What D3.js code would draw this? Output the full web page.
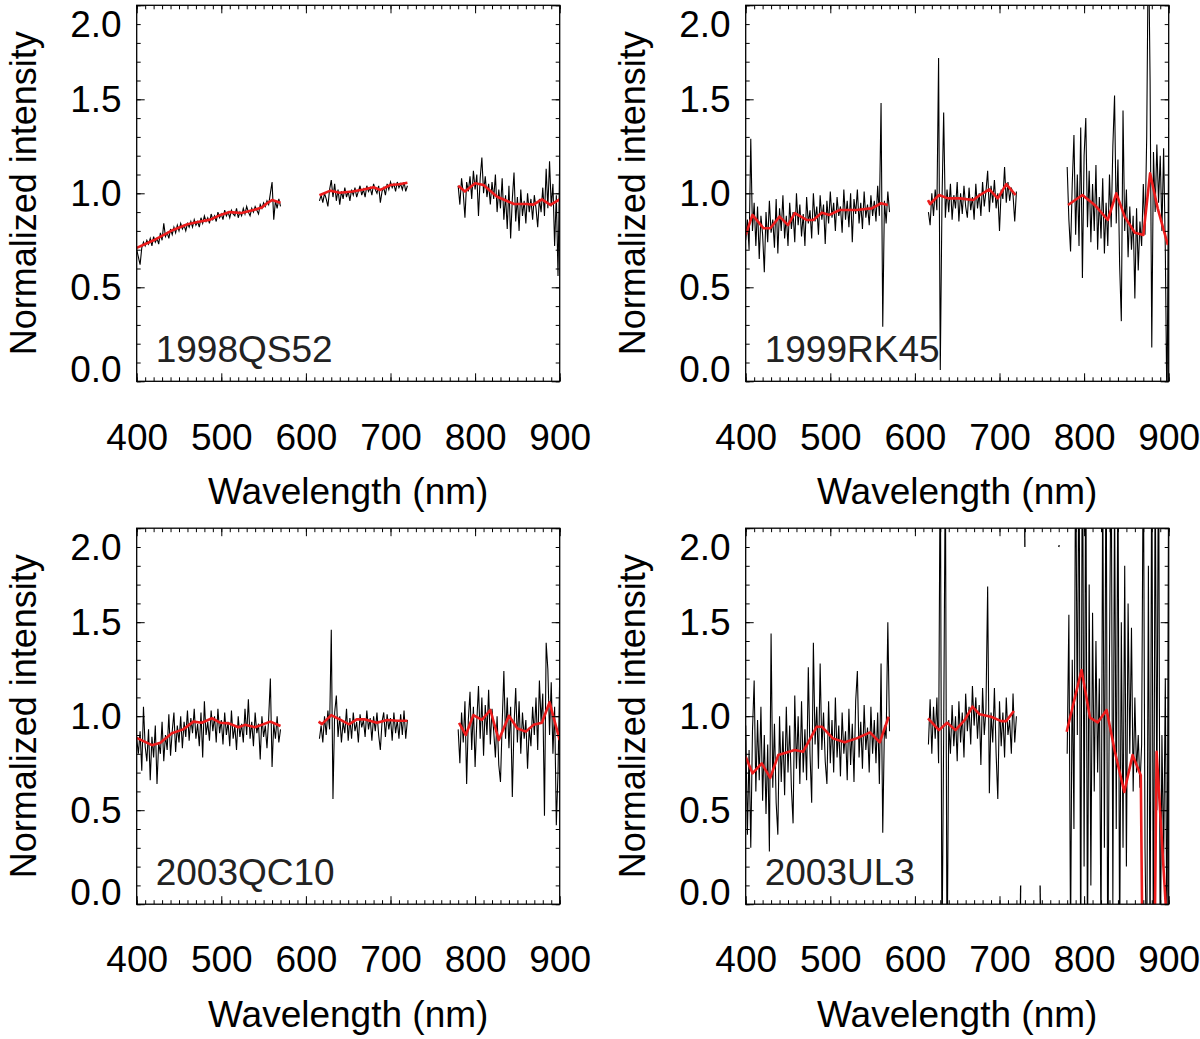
<!DOCTYPE html>
<html>
<head>
<meta charset="utf-8">
<script src="https://cdn.jsdelivr.net/npm/d3@7"></script>
<style>
body { margin: 0; background: #fff; }
svg { display: block; }
text { font-family: "Liberation Sans", Arial, Helvetica, sans-serif; }
</style>
</head>
<body>
<svg id="fig" width="1200" height="1039"></svg>
<script>
// spectra are sampled every 2 nm in three windows
var segStart = [400, 616, 780];
var step = 2;
var xTicks = [400, 500, 600, 700, 800, 900];
var yTicks = [0, 0.5, 1, 1.5, 2];
var names = ["1998QS52", "1999RK45", "2003QC10", "2003UL3"];

// 1998QS52
var qs52A = [0.70,0.66,0.62,0.71,0.74,0.72,0.75,0.73,0.76,0.72,0.77,0.74,0.76,0.73,0.79,0.75,0.84,0.77,0.79,0.76,
  0.81,0.78,0.82,0.79,0.83,0.80,0.84,0.81,0.83,0.80,0.84,0.82,0.85,0.82,0.86,0.83,0.85,0.82,0.87,0.84,
  0.88,0.85,0.87,0.84,0.89,0.86,0.88,0.85,0.90,0.87,0.89,0.86,0.91,0.88,0.90,0.87,0.91,0.89,0.88,0.92,
  0.87,0.90,0.88,0.92,0.89,0.93,0.90,0.88,0.92,0.90,0.93,0.91,0.89,0.94,0.92,0.95,0.93,0.96,0.94,1.00,
  1.06,0.86,0.96,0.92,0.97,0.93];
var qs52B = [0.96,0.99,0.95,1.00,0.97,0.93,1.02,1.07,0.98,1.05,0.96,1.02,0.94,1.01,0.97,1.03,0.98,1.01,0.96,1.02,
  0.99,1.03,0.98,1.01,1.04,0.99,1.02,0.98,1.04,1.01,1.03,0.99,1.05,1.02,1.00,1.04,0.95,1.01,1.03,0.99,
  1.05,1.02,1.06,1.03,1.05,1.01,1.06,1.03,1.05,1.02,1.06,1.01,1.04];
var qs52C = [1.04,0.94,1.08,1.00,0.87,1.06,1.01,1.09,0.97,1.12,1.02,1.10,0.88,1.08,1.19,1.00,1.09,0.98,1.05,0.94,
  1.06,0.97,1.10,0.90,1.02,0.92,1.08,0.86,0.99,0.81,1.04,0.76,0.97,1.11,0.85,0.98,0.80,1.02,0.88,0.96,
  0.84,1.00,0.90,0.97,0.86,0.99,0.92,0.82,0.97,0.90,1.03,0.88,1.13,0.92,1.17,0.93,1.05,0.72,0.99,0.56,1.18];
var qs52Smooth = [[400,0.71],[420,0.75],[443,0.805],[460,0.835],[475,0.85],[487,0.86],[499,0.885],[510,0.90],
  [524,0.895],[538,0.911],[548,0.925],[554,0.947],[560,0.964],[570,0.95], null,
  [616,0.99],[629,1.014],[640,1.003],[655,1.01],[668,1.02],[680,1.032],[688,1.018],[700,1.044],[710,1.048],[720,1.056], null,
  [780,1.04],[788,1.01],[800,1.053],[810,1.044],[826,0.982],[846,0.943],[861,0.943],[869,0.94],[879,0.968],[889,0.938],[900,0.968]];

// 1999RK45
var rk45A = [0.75,0.86,0.70,1.29,0.80,0.95,0.72,0.93,0.65,0.88,0.78,0.58,0.90,0.74,0.96,0.79,0.86,0.71,0.97,0.68,
  0.92,0.80,0.99,0.76,0.88,0.72,0.95,0.81,0.90,0.74,1.00,0.83,0.94,0.77,0.89,0.72,0.98,0.84,0.91,0.76,
  1.00,0.85,0.93,0.78,0.99,0.86,0.94,0.73,0.96,0.84,1.01,0.87,0.95,0.80,0.98,0.88,0.93,0.79,1.02,0.86,
  0.96,0.82,1.00,0.74,0.97,0.89,1.02,0.84,0.95,0.81,1.01,0.87,0.94,0.83,0.99,0.88,0.96,0.85,1.04,0.88,
  1.48,0.29,0.96,0.84,1.01,0.90];
var rk45B = [0.90,0.83,1.00,0.88,1.02,0.91,1.72,0.06,0.95,1.43,0.87,1.02,0.90,1.05,0.86,0.99,0.92,1.06,0.85,1.00,
  0.89,1.04,0.93,0.87,1.03,0.91,0.98,0.86,1.05,0.92,1.00,0.88,1.06,0.93,1.01,1.12,0.90,1.04,0.95,1.07,
  0.92,1.00,0.80,1.02,0.97,1.14,0.95,1.06,0.96,1.03,0.99,0.85,1.01];
var rk45C = [1.14,0.86,0.69,1.05,1.31,0.78,1.10,0.72,1.35,0.55,1.20,1.40,0.82,1.12,0.74,1.05,0.80,1.15,0.70,0.98,
  0.76,1.08,0.68,0.95,0.72,1.10,0.82,1.25,1.52,0.84,1.18,0.62,0.32,1.44,0.80,1.02,0.66,0.93,0.70,0.88,
  0.44,0.92,0.59,0.85,0.72,1.05,0.78,1.30,2.40,1.60,0.18,1.22,0.90,1.26,0.95,1.20,0.80,1.24,0.70,-0.20,1.35];
var rk45Smooth = [[400,0.778],[408,0.885],[421,0.814],[429,0.814],[440,0.876],[450,0.831],[458,0.894],[472,0.858],
  [480,0.858],[490,0.897],[499,0.885],[511,0.911],[531,0.911],[549,0.92],[560,0.947],[568,0.938], null,
  [615.5,0.964],[618,0.943],[628.5,0.991],[639,0.973],[653,0.973],[669,0.964],[677,0.991],[688,1.021],[698,0.973],[708,1.049],[719,0.991], null,
  [781,0.938],[798,0.991],[812.5,0.938],[828,0.858],[838,1.0],[848,0.876],[860,0.79],[870,0.778],[878,1.106],[887,0.92],[899,0.725]];

// 2003QC10
var qc10A = [0.88,0.80,0.92,0.71,1.05,0.84,0.76,0.93,0.66,0.89,0.78,0.95,0.64,0.86,0.80,0.97,0.76,0.90,0.82,1.01,
  0.79,0.92,1.02,0.81,0.95,0.86,1.00,0.83,0.97,0.89,1.03,0.87,0.99,0.91,1.04,0.88,0.96,0.84,1.02,0.78,
  1.08,0.90,0.97,0.87,1.03,0.92,1.00,0.86,1.04,0.91,0.98,0.85,1.02,0.90,0.97,0.84,1.03,0.88,0.95,0.82,
  1.00,0.89,0.96,0.86,1.04,0.90,1.09,0.88,0.97,0.84,1.02,0.91,0.96,0.77,1.00,0.89,0.95,0.83,0.99,1.20,
  0.73,0.96,0.88,1.00,0.86,0.93];
var qc10B = [0.88,0.95,0.86,1.00,0.90,1.03,0.93,1.46,0.56,1.02,1.11,0.89,1.00,0.86,0.97,0.91,1.04,0.87,0.99,0.88,
  1.02,0.92,0.97,0.86,1.01,0.94,0.98,0.89,1.03,0.93,0.99,0.87,1.00,0.92,1.02,0.90,0.82,0.97,1.02,0.89,
  1.01,0.93,0.99,0.87,1.02,0.91,0.98,0.88,1.01,0.90,1.03,0.88,0.98];
var qc10C = [0.93,0.75,1.02,0.86,1.08,0.64,0.98,1.13,0.82,1.05,0.73,0.97,1.16,0.88,1.10,0.79,1.06,0.90,1.14,0.85,
  1.04,0.92,0.78,1.00,0.74,0.65,0.96,1.24,0.88,1.10,0.83,1.05,0.57,0.95,1.15,0.86,1.08,0.80,1.02,0.88,
  0.98,0.72,0.94,0.84,1.05,0.90,1.10,0.82,1.19,0.97,1.12,0.47,1.39,1.25,0.90,1.18,0.80,1.05,0.42,0.70,1.21];
var qc10Smooth = [[400,0.885],[418,0.846],[428,0.859],[441.5,0.909],[455,0.93],[467,0.971],[477,0.965],[489,0.989],
  [499,0.965],[509,0.962],[520,0.941],[528,0.954],[540,0.941],[558,0.971],[570,0.948], null,
  [615,0.971],[619,0.958],[630,1.006],[641,0.98],[651,0.957],[660,0.983],[670,0.983],[684,0.965],[696,0.98],[708,0.976],[720,0.976], null,
  [781,0.965],[789,0.9],[798,1.006],[808,0.98],[818,1.033],[828,0.873],[840,1.002],[850,0.935],[860,0.918],[869,0.954],[879,0.965],[888,1.074],[900,0.873]];

// 2003UL3
var ul3A = [0.95,0.37,0.82,0.30,0.92,1.19,0.60,0.98,0.66,1.05,0.55,0.90,0.48,0.85,0.28,1.44,0.62,0.96,0.54,0.37,
  1.00,0.65,0.92,0.58,1.05,0.70,0.95,0.62,0.43,1.11,0.72,1.00,0.64,1.08,0.70,0.93,0.66,1.26,0.80,0.54,
  1.39,0.85,1.05,0.72,1.28,0.82,1.02,0.76,0.64,1.08,0.75,0.98,0.70,1.10,0.78,0.95,0.68,1.02,0.80,0.92,
  0.66,1.04,0.74,0.96,0.65,1.08,1.24,0.78,0.97,0.72,1.06,0.82,0.94,0.70,1.05,0.80,0.98,0.75,1.02,0.64,
  1.28,0.38,0.95,0.88,1.50,0.92];
var ul3B = [0.85,1.09,0.80,1.05,0.88,1.10,0.75,2.50,-0.30,0.90,2.40,-0.40,0.98,0.80,1.06,0.84,1.00,0.76,1.08,0.86,
  1.02,0.78,1.12,0.92,1.05,0.85,1.16,0.95,1.10,0.88,1.06,0.74,1.15,0.90,1.04,1.69,0.59,1.02,0.86,1.15,
  0.80,0.56,1.08,0.84,1.02,0.78,1.10,0.90,0.98,0.80,1.12,0.86,1.00];
var ul3C = [0.80,1.54,-0.20,1.30,0.40,2.50,0.90,2.60,-0.40,2.80,0.20,2.50,-0.30,1.70,0.10,1.55,0.60,1.40,0.70,1.20,
  -0.20,2.30,0.30,2.60,-0.50,1.30,2.50,0.00,2.20,0.40,2.40,-0.30,1.50,0.30,1.80,0.20,1.60,0.80,1.47,0.60,
  1.10,0.70,0.90,0.62,0.85,2.50,0.30,-0.40,1.80,-0.30,2.60,-0.50,2.40,0.50,2.60,-0.40,0.90,0.20,1.20,-0.30,2.50];
// isolated samples inside the 720-780 nm gap
var ul3Stray = [[[724,-0.3],[725,0.10]], [[729,2.5],[730,1.90]], [[748,0.10],[749,-0.3]], [[770,1.90],[770.6,1.91]]];
var ul3Smooth = [[400,0.784],[408,0.696],[419,0.749],[429,0.672],[438.5,0.793],[458,0.82],[468,0.811],[484,0.944],
  [490,0.944],[503,0.882],[517,0.861],[531,0.882],[547,0.914],[558.5,0.861],[569,0.997], null,
  [615.5,0.989],[628.5,0.926],[638,0.965],[648,0.926],[659,0.98],[668,1.051],[676.5,1.01],[690,0.997],[702,0.974],[708,0.974],[717,1.028], null,
  [779.4,0.917],[797,1.246],[807,0.992],[816,0.967],[826.6,1.033],[836.4,0.811],[847.5,0.597],[857.3,0.793],[867,0.686],[876,-3.5],[885.7,0.81],[900,-0.27]];

var panels = [
  { name: names[0], segs: [qs52A, qs52B, qs52C], stray: [], smooth: qs52Smooth, left: 136.7, top: 5.3 },
  { name: names[1], segs: [rk45A, rk45B, rk45C], stray: [], smooth: rk45Smooth, left: 745.7, top: 5.3 },
  { name: names[2], segs: [qc10A, qc10B, qc10C], stray: [], smooth: qc10Smooth, left: 136.7, top: 528.2 },
  { name: names[3], segs: [ul3A, ul3B, ul3C], stray: ul3Stray, smooth: ul3Smooth, left: 745.7, top: 528.2 }
];

var W = 423, H = 376;
var FONT = 37;
var svg = d3.select("#fig");
svg.append("rect").attr("width", 1200).attr("height", 1039).attr("fill", "#fff");

var xMinor = d3.range(400, 901, 10);
var yMinor = d3.range(0, 21).map(function (d) { return d / 10; });

panels.forEach(function (p, k) {
    var x = d3.scaleLinear().domain([400, 900]).range([0, W]);
    var y = d3.scaleLinear().domain([0, 2]).range([H, 0]);
    var g = svg.append("g").attr("transform", "translate(" + p.left + "," + p.top + ")");

    g.append("clipPath").attr("id", "clip" + k)
        .append("rect").attr("width", W).attr("height", H);
    var plot = g.append("g").attr("clip-path", "url(#clip" + k + ")");

    var line = d3.line()
        .defined(function (d) { return d != null; })
        .x(function (d) { return x(d[0]); })
        .y(function (d) { return y(d[1]); });

    // black spectrum, one path per window
    p.segs.forEach(function (vals, s) {
        var pts = vals.map(function (v, i) { return [segStart[s] + i * step, v]; });
        plot.append("path").attr("d", line(pts))
            .attr("fill", "none").attr("stroke", "#000").attr("stroke-width", 1.1);
    });
    p.stray.forEach(function (pts) {
        plot.append("path").attr("d", line(pts))
            .attr("fill", "none").attr("stroke", "#000").attr("stroke-width", 1.3);
    });

    // red smoothed spectrum
    plot.append("path").attr("d", line(p.smooth))
        .attr("fill", "none").attr("stroke", "#ec1c1c").attr("stroke-width", 2.6)
        .attr("stroke-linejoin", "round");

    // ticks on all four sides, pointing inwards
    function clean(sel) { sel.select(".domain").remove(); }

    g.append("g").attr("transform", "translate(0," + H + ")")
        .call(d3.axisBottom(x).tickValues(xMinor).tickSize(-4).tickFormat("")).call(clean);
    var xb = g.append("g").attr("transform", "translate(0," + H + ")")
        .call(d3.axisBottom(x).tickValues(xTicks).tickSize(-8).tickPadding(42).tickFormat(d3.format("d")))
        .call(clean);
    xb.attr("font-size", FONT).attr("font-family", null);
    xb.selectAll("text").attr("fill", "#000");

    g.append("g").call(d3.axisTop(x).tickValues(xMinor).tickSize(-4).tickFormat("")).call(clean);
    g.append("g").call(d3.axisTop(x).tickValues(xTicks).tickSize(-8).tickFormat("")).call(clean);

    g.append("g").call(d3.axisLeft(y).tickValues(yMinor).tickSize(-4).tickFormat("")).call(clean);
    var yl = g.append("g")
        .call(d3.axisLeft(y).tickValues(yTicks).tickSize(-8).tickPadding(15).tickFormat(d3.format(".1f")))
        .call(clean);
    yl.attr("font-size", FONT).attr("font-family", null);
    yl.selectAll("text").attr("fill", "#000")
        .attr("dy", function (d) { return d === 2 ? "0.85em" : (d === 0 ? "0em" : "0.34em"); });

    g.append("g").attr("transform", "translate(" + W + ",0)")
        .call(d3.axisRight(y).tickValues(yMinor).tickSize(-4).tickFormat("")).call(clean);
    g.append("g").attr("transform", "translate(" + W + ",0)")
        .call(d3.axisRight(y).tickValues(yTicks).tickSize(-8).tickFormat("")).call(clean);

    g.append("rect").attr("width", W).attr("height", H)
        .attr("fill", "none").attr("stroke", "#000").attr("stroke-width", 1.3);

    // labels
    g.append("text").attr("x", W / 2).attr("y", H + 123)
        .attr("text-anchor", "middle").attr("font-size", FONT).attr("fill", "#000")
        .text("Wavelength (nm)");
    g.append("text")
        .attr("transform", "translate(-101," + (H / 2) + ") rotate(-90)")
        .attr("text-anchor", "middle").attr("font-size", 36).attr("fill", "#000")
        .text("Normalized intensity");
    g.append("text").attr("x", 19).attr("y", H - 19)
        .attr("font-size", FONT).attr("fill", "#222")
        .text(p.name);
});
</script>
</body>
</html>
